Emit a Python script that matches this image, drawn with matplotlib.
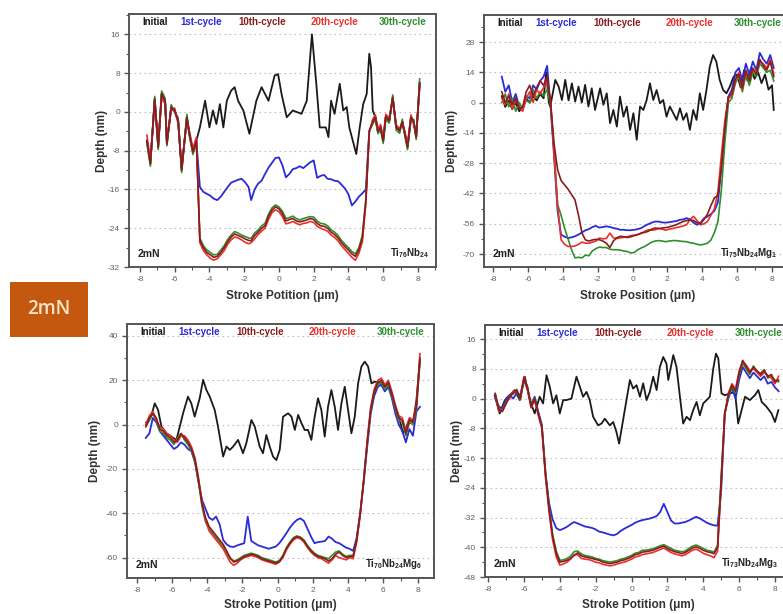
import numpy as np
import matplotlib
matplotlib.use("Agg")
import matplotlib.pyplot as plt
from matplotlib.ticker import MultipleLocator
from matplotlib.patches import Rectangle

plt.rcParams['font.family'] = ['Liberation Sans', 'DejaVu Sans']
plt.rcParams['mathtext.fontset'] = 'custom'
plt.rcParams['mathtext.rm'] = 'Liberation Sans:bold'
plt.rcParams['mathtext.default'] = 'rm'
plt.rcParams['axes.unicode_minus'] = False

series_names = ["Initial", "1st-cycle", "10th-cycle", "20th-cycle", "30th-cycle"]
series_colors = ["#1a1a1a", "#2b2bd6", "#8b1c1c", "#e8302c", "#2f8f2f"]
legend_pos = [0.045, 0.168, 0.355, 0.592, 0.812]

# ---------------- Ti76Nb24 ----------------
p1_x_init = [-7.6, -7.4, -7.15, -6.95, -6.75, -6.55, -6.45, -6.2, -6.0, -5.8,
             -5.6, -5.3, -5.15, -4.95, -4.75, -4.55, -4.25, -4.0, -3.8, -3.6,
             -3.4, -3.2, -3.0, -2.75, -2.55, -2.35, -2.05, -1.7, -1.3, -1.0,
             -0.6, -0.25, -0.05, 0.15, 0.45, 0.8, 1.3, 1.6, 1.9, 2.15,
             2.35, 2.7, 2.85, 3.0, 3.2, 3.5, 3.7, 3.9, 4.05, 4.35,
             4.45, 4.65, 4.85, 5.05, 5.2, 5.3, 5.4, 5.55, 5.7, 5.85,
             6.0, 6.15, 6.35, 6.55, 6.75, 6.95, 7.1, 7.25, 7.4, 7.6,
             7.75, 7.9, 8.1]
p1_initial = [-5.9, -10.7, 2.7, -7.3, 3.8, 2.3, -6.6, 1.0, 0.3, -1.8,
              -12, -1.1, -4.5, -8.3, -5.9, -3.2, 2.3, -3.2, 0.3, -2.5,
              1.6, -3.2, 2.3, 4.4, 5.1, 2.3, 0.3, -4.5, 2.3, 5.1,
              2.3, 7.5, 7.8, 3.7, -1.1, 0.3, -0.4, 2.3, 16, 5.8,
              -3.2, -3.2, -5.2, 2.3, -0.4, 5.8, 0.3, 1.0, -3.2, -7.3,
              -8.7, -3.2, 1.6, 3.7, 12, 9.2, 0.3, -1.1, -4, -3.2,
              -6, -1, -1.8, 3.0, -3.2, -3.9, -2, -4.5, -7.3, -1.1,
              -2, -5.2, 6]
p1_x_cyc = ([-7.6, -7.4, -7.15, -6.95, -6.75, -6.55, -6.45, -6.2, -6.0, -5.8,
             -5.6, -5.3, -5.15, -4.95, -4.75,
             -4.55, -4.35, -4.15, -3.95, -3.75, -3.55, -3.35, -3.15, -2.95, -2.75,
             -2.55, -2.35, -2.15, -1.95, -1.75]
            + list(np.round(np.arange(-1.6, 5.21, 0.2), 2))
            + [5.4, 5.55, 5.7, 5.85, 6.0, 6.15, 6.35, 6.55, 6.75, 6.95,
               7.1, 7.25, 7.4, 7.6, 7.75, 7.9, 8.1])
p1_c1 = [-6.2, -10.2, 2.3, -6.9, 3.4, 1.9, -6.2, 0.7, 0.1, -2.1, -11.6, -1.4, -4.8, -8.0, -6.1,
         -15.5, -16.5, -16.9, -17.3, -17.9, -18.2, -17.5, -16.5, -15.5, -14.6,
         -14.3, -14.0, -13.8, -14.5, -15.5,
         -18.2, -16.0, -14.8, -14.2, -12.8, -11.5, -10.5, -9.5, -9.4, -11.0,
         -13.5, -12.8, -11.8, -11.6, -11.2, -11.6, -11.0, -10.4, -10.0, -13.6,
         -13.2, -13.0, -13.8, -13.9, -14.2, -14.3, -15.0, -15.8, -17.0, -19.3,
         -18.5, -17.5, -16.8, -16.0, -4.0,
         -2.2, -1.3, -4.2, -3.0, -5.8, -1.2, -1.6, 2.7, -3.0, -3.6, -2.2, -4.7, -7.0, -1.3, -1.8, -5.0, 5.5]
p1_c10 = [-5.9, -10.7, 2.7, -7.3, 3.8, 2.3, -6.6, 1.0, 0.3, -1.8, -12.0, -1.1, -4.5, -8.3, -5.9,
          -26.5, -28.0, -29.0, -29.5, -30.0, -29.8, -29.0, -28.0, -26.8, -25.8,
          -25.2, -25.5, -25.8, -26.2, -26.5,
          -26.6, -25.5, -24.8, -24.0, -23.5, -21.5, -20.3, -19.6, -20.0, -21.0,
          -22.5, -22.2, -22.0, -22.5, -22.7, -22.5, -22.3, -22.0, -22.2, -23.0,
          -23.5, -23.6, -24.0, -24.8, -25.3, -26.0, -27.0, -27.8, -28.5, -29.3,
          -29.8, -28.5, -26.0, -18.5, -4.0,
          -2.0, -1.1, -4.0, -3.2, -6.0, -1.0, -1.8, 3.0, -3.2, -3.9, -2.0, -4.5, -7.3, -1.1, -2.0, -5.2, 6.0]
p1_c20 = [-4.8, -10.0, 2.0, -6.5, 3.0, 1.6, -5.8, 0.4, 0.8, -2.5, -11.2, -1.8, -4.0, -7.5, -5.2,
          -27.0, -28.6, -29.5, -30.2, -30.6, -30.3, -29.5, -28.6, -27.3, -26.4,
          -25.8, -26.0, -26.4, -26.9, -27.2,
          -27.0, -26.2, -25.3, -24.6, -24.0, -22.2, -20.8, -20.2, -20.6, -21.6,
          -23.1, -22.9, -22.6, -23.0, -23.3, -23.0, -22.9, -22.6, -22.8, -23.6,
          -24.0, -24.3, -24.6, -25.4, -25.9, -26.6, -27.6, -28.4, -29.2, -30.0,
          -30.6, -29.2, -26.8, -19.0, -4.2,
          -1.5, -0.6, -3.5, -2.6, -5.4, -0.5, -1.2, 2.4, -2.7, -3.4, -2.6, -4.0, -6.8, -0.6, -2.6, -4.6, 5.2]
p1_c30 = [-6.5, -11.2, 3.2, -7.8, 4.3, 2.8, -7.0, 1.5, -0.2, -1.2, -12.5, -0.5, -5.0, -8.8, -6.4,
          -26.0, -27.6, -28.5, -29.0, -29.5, -29.4, -28.5, -27.6, -26.3, -25.4,
          -24.7, -25.0, -25.4, -25.7, -26.0,
          -26.1, -25.0, -24.4, -23.5, -23.0, -21.1, -19.8, -19.2, -19.6, -20.5,
          -22.0, -21.8, -21.5, -22.0, -22.3, -22.0, -21.8, -21.6, -21.7, -22.5,
          -23.0, -23.1, -23.5, -24.3, -24.8, -25.5, -26.5, -27.3, -28.0, -28.8,
          -29.3, -28.0, -25.5, -18.0, -3.8,
          -2.5, -1.6, -4.5, -3.7, -6.5, -1.5, -2.3, 3.5, -3.8, -4.4, -1.5, -5.0, -7.8, -1.6, -1.5, -5.7, 6.8]

# ---------------- Ti75Nb24Mg1 ----------------
p2_x_init = ([-7.5, -7.3, -7.1, -6.9, -6.7, -6.5, -6.3, -6.1, -5.9, -5.7,
              -5.5, -5.3, -5.1, -4.95, -4.8,
              -4.72, -4.43, -4.24, -4.05, -3.86, -3.67, -3.48, -3.29, -3.1, -2.91,
              -2.72, -2.53, -2.34, -2.15, -1.86, -1.67, -1.48, -1.29, -1.1, -0.9,
              -0.72, -0.52, -0.33, -0.14, 0.05, 0.24, 0.43, 0.62, 0.81, 1.0,
              1.19, 1.38, 1.57, 1.76, 1.95, 2.14, 2.34, 2.53, 2.72, 2.91,
              3.1, 3.29, 3.48, 3.67, 3.86, 4.05, 4.24, 4.43, 4.62, 4.81,
              5.0, 5.2, 5.39, 5.58,
              5.8, 6.0, 6.2, 6.4, 6.6, 6.8, 7.0, 7.2, 7.4, 7.6, 7.8, 8.0, 8.1])
p2_initial = [3, -2, 1, -3, 0, -4, -2, 2, 0, 3, 1, 4, 2, 14, 0,
              -1.8, 10.5, 7.4, 1.2, 10.5, 1.0, 8.9, 0.5, 7.4, 0,
              8.2, -1.8, 6.6, -3.4, 6.6, -1.0, 4.3, -9.5, -3.4, -11.1,
              2.8, -6.5, -1.8, -12.6, -4.9, -17.2, -1.8, -3.4, 1.2, 8.9,
              1.2, 5.8, -0.3, 1.2, -6.5, -1.8, -4.9, -8.0, -2.6, -8.0,
              -4.9, -12.6, -3.4, -8.0, 4.3, -3.4, 5.8, 16.6, 22.0, 18.9,
              10.5, 5.8, 4.3, 7.4,
              12, 13, 7, 15, 10, 16, 11, 14, 9, 13, 6, 8, -3.4]
p2_x_cyc = list(np.round(np.arange(-7.5, 8.11, 0.2), 2))
p2_c1 = [12, 5, 8, 0, 4, -2, -3, 3, 2, 8, 6, 10, 12, 17,
         -2, -25, -50, -61, -62, -62.6, -62.3, -61.8, -61, -60,
         -59, -58.5, -57.5, -57, -57.8, -57.5, -57.2, -57.5, -58, -58.3,
         -58.8, -58.8, -59, -59, -58.8, -58.5, -58, -57, -56.2, -55.5,
         -55, -55, -55.4, -55.5, -55.3, -55, -54.8, -54.2, -54, -53.4,
         -54, -55.5, -56.5, -55.5, -53.5, -52.6, -51.5, -50, -46, -29.5,
         -11, 2.8,
         6, 14, 16, 10, 18, 13, 19, 15, 23, 20, 18, 22, 16]
p2_c10 = [5, 0, 3, -1, 2, -3, -2, 5, 8, 3, 7, 10, 8, 12,
          -0.3, -19, -31, -36, -38, -40, -42.5, -45, -52, -60.3,
          -63.5, -64, -63.5, -63.2, -63.4, -64, -65, -67, -64, -62.5,
          -61.8, -62, -62.4, -62, -61.5, -61, -60.3, -60, -59.5, -58.5,
          -58, -58.2, -58, -57.8, -57.5, -57, -56.5, -55.7, -55, -54.5,
          -54.3, -54.5, -55.5, -56, -54, -51.5, -47.5, -44, -43, -30,
          -11, 2.8,
          4, 11, 13, 7, 15, 10, 16, 13, 20, 17, 15, 19, 12]
p2_c20 = [2, -1, 4, -3, 1, -2, -4, 2, 5, 0, 6, 4, 7, 10,
          1, -24, -47, -63.4, -65.5, -66.5, -66.5, -66.3, -65.5, -64.5,
          -65, -65, -64.5, -64, -62.6, -63, -62.8, -60.3, -62.5, -62.8,
          -62.5, -62.3, -62, -61.5, -61.3, -61, -60.5, -59.5, -58.8, -59,
          -58.8, -58.2, -58.5, -59, -58.5, -58.2, -57.8, -57.5, -57, -56.5,
          -54, -52.6, -54.5, -56.5, -56, -55, -52, -49, -41, -24,
          -8, 2,
          3, 10, 14, 6, 14, 11, 15, 14, 19, 18, 16, 20, 13]
p2_c30 = [0, 4, -2, 2, -4, 0, -3, 1, 0, 6, 2, 5, 3, 6,
          -1, -22, -47, -52, -58, -63, -68, -71.8, -71.5, -71.8,
          -70.5, -70.8, -68.5, -67.5, -66.8, -67, -67, -67.8, -68, -68,
          -68.2, -68.6, -68.8, -69.5, -69.3, -68, -67.2, -66.5, -65.5, -64.5,
          -64, -63.8, -64, -64.3, -64, -63.8, -63.8, -64, -64.2, -64.3,
          -64.8, -65, -65.5, -65.8, -65.5, -65, -63.5, -60, -55, -40,
          -18, 0,
          2, 9, 12, 5, 13, 8, 14, 12, 18, 16, 14, 15, 10]

# ---------------- Ti70Nb24Mg6 ----------------
p3_x_init = [-7.47, -7.2, -6.99, -6.8, -6.61, -6.33, -6.05, -5.76, -5.57, -5.38,
             -5.1, -4.91, -4.72, -4.43, -4.24, -4.05, -3.86, -3.58, -3.39, -3.1,
             -2.91, -2.72, -2.53, -2.25, -1.97, -1.78, -1.49, -1.3, -1.02, -0.83,
             -0.64, -0.45, -0.26, -0.07, 0.12, 0.31, 0.6, 0.79, 0.98, 1.17,
             1.36, 1.54, 1.73, 1.92, 2.11, 2.3, 2.49, 2.68, 2.87, 3.06,
             3.25, 3.44, 3.63, 3.82, 4.01, 4.2, 4.39, 4.58, 4.77, 4.96,
             5.15, 5.34, 5.53, 5.8, 6.0, 6.19, 6.38, 6.57, 6.76, 6.95,
             7.14, 7.33, 7.52, 7.71, 7.9, 8.1]
p3_initial = [-0.2, 3.6, 9.6, 6.6, -0.9, -3.9, -5.4, -6.9, -1, 5.1,
              12.6, 9.6, 3.6, 12, 20.2, 15.6, 12.6, 6.6, -0.9, -14.4,
              -9.9, -11.4, -9.9, -6.9, -12.9, -8.4, 2.1, -0.9, -9.9, -12.9,
              -4.7, -9.9, -14.4, -16, -11.4, 3.6, 5.1, 3.6, -2.4, 4.4,
              0.6, -2.4, -2.4, -6.9, 3.6, 11.9, 6.6, -5.4, 8.1, 15.6,
              8.1, -2.4, 9.6, 17.1, 6.6, -3.9, 3.6, 18.6, 26.2, 28.4,
              26.2, 18.6, 19.4, 19, 17, 18, 16, 11, 6.6, 2,
              -3.9, -1, 3, 1, 11.1, 29.2]
p3_x_cyc = list(np.round(np.arange(-7.5, 8.11, 0.2), 2))
p3_c1 = [-6, -4, 3, 1, -3, -5, -7, -9, -11, -10, -8, -9, -11,
         -12, -17, -26, -34, -38, -42, -43, -41.5, -45, -52,
         -54, -55, -55.2, -54.5, -54, -53.5, -41.5, -52.5, -53.5, -54.5,
         -55, -55.5, -56, -55.5, -55, -53.5, -51.3, -49, -46.5, -44.5,
         -43, -42.3, -43.5, -47, -50.5, -53.5, -53, -52.8, -52.5, -50.5,
         -51.5, -53, -53.5, -54.5, -55.5, -56, -57, -51, -40, -26,
         -10, 5, 13,
         17, 18, 15, 17, 12, 5, 0, -3, -8, -2, -5, 6, 8]
p3_c10 = [-1, 3, 5, 3, -2, -3, -5, -6, -8, -7, -4, -6, -8,
          -11, -16, -25, -36, -42, -46, -48, -50, -52, -54,
          -57, -60, -62, -61.5, -60.5, -59.5, -59, -58.5, -58.8, -59.5,
          -60.5, -61, -61.5, -62, -62.5, -61.8, -59.5, -56, -53.5, -51.5,
          -50.5, -51, -52.5, -55, -57, -58.5, -59.5, -60, -60.5, -61.5,
          -60.5, -58.5, -57.5, -59, -60, -59.5, -59.5, -52, -40, -25,
          -8, 7, 15,
          19, 20, 17, 19, 14, 8, 3, 2, -4, 2, 1, 8, 30]
p3_c20 = [0, 4, 6, 2, -1, -2, -4, -5, -7, -8, -5, -5, -7,
          -10, -15, -24, -35, -43, -48, -50, -52, -54, -56,
          -59, -62, -63.5, -62.5, -61, -60, -59.5, -59, -59.5, -60,
          -61, -61.5, -62, -62.5, -63, -62, -60, -56.5, -54, -52,
          -51, -51.5, -53, -55.5, -57.5, -59, -60, -60.5, -61.5, -62.5,
          -61, -59, -60, -60.5, -61, -60, -60.5, -53, -41, -25,
          -7, 8, 16,
          20, 21, 18, 20, 15, 9, 4, 3, -3, 3, 2, 9, 32]
p3_c30 = [1, 2, 5, 2, -3, -4, -6, -7, -9, -6, -4, -7, -9,
          -12, -17, -26, -37, -44, -47, -49, -51, -53, -55,
          -58, -60.5, -61.5, -61, -60, -59, -58.5, -58, -58.5, -59,
          -60, -60.5, -61, -61.5, -62, -61.3, -59, -55.5, -53, -51,
          -50.2, -50.8, -52, -54.5, -56.5, -58, -59, -59.5, -60, -60.5,
          -59, -57.5, -57, -58.5, -59.5, -59, -59, -52, -40, -25,
          -8, 6, 15,
          18, 19, 16, 18, 13, 7, 2, 1, -5, 1, 0, 7, 28]

# ---------------- Ti73Nb24Mg3 ----------------
p4_x_init = [-7.63, -7.35, -7.07, -6.79, -6.51, -6.23, -5.95, -5.67, -5.4, -5.12,
             -4.93, -4.74, -4.56, -4.37, -4.19, -4.0, -3.81, -3.63, -3.35, -3.07,
             -2.88, -2.7, -2.51, -2.33, -2.14, -1.86, -1.67, -1.49, -1.21, -1.02,
             -0.84, -0.69, -0.47, -0.28, -0.09, 0.09, 0.28, 0.47, 0.65, 0.84,
             1.02, 1.21, 1.4, 1.58, 1.77, 1.95, 2.05, 2.33, 2.51, 2.7,
             2.88, 3.07, 3.26, 3.44, 3.63, 3.81, 4.0, 4.19, 4.37, 4.56,
             4.71, 4.84, 5.02, 5.21, 5.49, 5.77, 5.95, 6.14, 6.33, 6.6,
             6.88, 7.07, 7.26, 7.53, 7.81, 8.0, 8.19]
p4_initial = [0.9, -4, -0.5, 0.9, 2.3, -0.4, 5.9, -0.4, -4, 0.5,
              -1.3, 6.3, 3.2, -1.3, 0.9, -4, -0.4, -0.4, 0, 5.9,
              3.2, 0.5, 1.8, -0.4, -4.9, -7.2, -6.7, -5.4, -7.2, -6.3,
              -9, -12.1, -5.8, -0.4, 5, 2.7, 3.6, 0.5, 4.1, -0.4,
              1.8, 5.9, 2.3, 8.5, 11.2, 9.4, 5, 11.7, 8.5, 0.5,
              -6.7, -4.9, -5.8, -3.1, -0.9, -4.5, -1.3, -0.4, 0.5, 8.1,
              12.1, 10.8, 1.4, 0.9, 1.4, 1.8, -6.7, -3.1, 0.5, -0.4,
              0.9, 2.3, -0.9, -2.2, -4, -6.3, -3.1]
p4_x_cyc = list(np.round(np.arange(-7.6, 8.21, 0.2), 2))
p4_c1 = [0, -2, -3, 0, 1, 0, 1.5, 1, 5, 2.5, -1.5, 0.5, -3.5, -7,
         -20, -28, -32.5, -34.8, -35.4, -35, -34.5, -33.8, -33.2, -33.6,
         -34, -34.4, -34.6, -34.8, -35.2, -35.8, -36, -36.3, -36.6, -36.8,
         -36.4, -35.6, -35, -34.5, -34, -33.4, -33, -32.7, -32.5, -32.3,
         -32, -31.6, -30.5, -28.3, -30.5, -32.8, -33.6, -33.6, -33.4, -33.2,
         -32.8, -32.3, -31.8, -32.2, -32.8, -33.4, -33.8, -34.1, -34.2, -25,
         -4,
         0, 3, 0, 5, 8.5, 7, 5.5, 7, 6, 5, 6, 4, 4.5, 3, 2]
p4_c10 = [1.4, -3, -3.5, -1.3, 0.5, 1.5, 2.3, 0, 5.5, 3, -2.2, 0, -4, -7.6,
          -20, -29.5, -37, -41.5, -44, -43.8, -43.5, -43, -42.2, -41.5,
          -42.3, -42.6, -42.8, -43, -43.3, -43.5, -44, -44.2, -44.4, -44.2,
          -44, -43.6, -43.4, -43, -42.6, -42, -41.8, -41.3, -41.2, -41,
          -40.8, -40.4, -40, -39.7, -40.3, -40.8, -41.2, -41.4, -41.7, -41.4,
          -40.8, -40.2, -39.9, -40.3, -40.8, -41.2, -41.4, -41.7, -40, -22,
          -4,
          1, 3.6, 2, 6.8, 10.3, 8.5, 7, 8.5, 7.5, 6.5, 7.6, 5.9, 6.5, 4.5, 5]
p4_c20 = [1, -3.5, -3, -1, 0, 2, 2, 0.5, 5.9, 2.5, -2.5, -0.5, -4.5, -8,
          -21, -30.5, -38, -42.5, -44.8, -44.5, -44, -43.2, -42, -42,
          -43, -43.2, -43.3, -43.6, -44, -44.2, -44.6, -44.8, -45, -44.8,
          -44.5, -44.2, -44, -43.6, -43.2, -42.6, -42.4, -42, -41.8, -41.6,
          -41.4, -41, -40.6, -40.2, -40.8, -41.4, -41.8, -42, -42.3, -42,
          -41.4, -40.8, -40.5, -41, -41.6, -42, -42.3, -42.8, -41, -23,
          -4.5,
          1.5, 4, 2.5, 7.5, 10, 9, 7.5, 8, 7, 6, 7, 6.3, 5.5, 4, 6]
p4_c30 = [1.2, -2.8, -3.2, -1.5, 0.8, 1.2, 2.5, -0.3, 5.2, 3.2, -2, 0.3, -4.2, -7.4,
          -19.5, -29, -36.5, -41, -43.5, -43.4, -43, -42.4, -41.2, -41,
          -41.8, -42.2, -42.4, -42.6, -43, -43.2, -43.6, -43.8, -44, -43.8,
          -43.6, -43.2, -43, -42.6, -42.2, -41.6, -41.4, -40.8, -40.8, -40.6,
          -40.4, -40, -39.6, -39.3, -39.8, -40.3, -40.8, -41, -41.2, -41,
          -40.3, -39.7, -39.4, -39.8, -40.3, -40.8, -41, -41.3, -39.5, -21,
          -3.8,
          0.5, 3.2, 1.5, 6.3, 9.5, 8, 6.5, 8.8, 7.2, 6.8, 7.8, 5.5, 6, 5, 4.5]

panels = [
    dict(rect=[129, 14, 307, 253], xlim=(-8.63, 9.04), ylim=(-32, 20.2),
         yticks=[16, 8, 0, -8, -16, -24, -32], yminor=4,
         x_init=p1_x_init, initial=p1_initial, x_cyc=p1_x_cyc,
         cycles=[p1_c1, p1_c10, p1_c20, p1_c30],
         alloy="Ti$_{76}$Nb$_{24}$", alloy_x=0.85,
         xlabel="Stroke Potition (\u03bcm)", ylab_x=-0.068, xlab_y=-0.091),
    dict(rect=[484, 15, 307, 252], xlim=(-8.52, 9.09), ylim=(-76, 40.5),
         yticks=[28, 14, 0, -14, -28, -42, -56, -70], yminor=7,
         x_init=p2_x_init, initial=p2_initial, x_cyc=p2_x_cyc,
         cycles=[p2_c1, p2_c10, p2_c20, p2_c30],
         alloy="Ti$_{75}$Nb$_{24}$Mg$_{1}$", alloy_x=0.77,
         xlabel="Stroke Position (\u03bcm)", ylab_x=-0.085, xlab_y=-0.091),
    dict(rect=[127, 324, 307, 254], xlim=(-8.57, 8.9), ylim=(-69.2, 45.4),
         yticks=[40, 20, 0, -20, -40, -60], yminor=10,
         x_init=p3_x_init, initial=p3_initial, x_cyc=p3_x_cyc,
         cycles=[p3_c1, p3_c10, p3_c20, p3_c30],
         alloy="Ti$_{70}$Nb$_{24}$Mg$_{6}$", alloy_x=0.775,
         xlabel="Stroke Potition (\u03bcm)", ylab_x=-0.085, xlab_y=-0.083),
    dict(rect=[485, 325, 307, 252], xlim=(-8.17, 8.95), ylim=(-48, 19.8),
         yticks=[16, 8, 0, -8, -16, -24, -32, -40, -48], yminor=4,
         x_init=p4_x_init, initial=p4_initial, x_cyc=p4_x_cyc,
         cycles=[p4_c1, p4_c10, p4_c20, p4_c30],
         alloy="Ti$_{73}$Nb$_{24}$Mg$_{3}$", alloy_x=0.77,
         xlabel="Stroke Potition (\u03bcm)", ylab_x=-0.072, xlab_y=-0.087),
]

W, H = 783, 614
fig = plt.figure(figsize=(W / 100, H / 100), dpi=100)

for p in panels:
    l, t, w, h = p["rect"]
    ax = fig.add_axes([l / W, (H - t - h) / H, w / W, h / H])
    for ys in p["cycles"]:
        if len(ys) != len(p["x_cyc"]):
            raise ValueError("series length mismatch")
    if len(p["x_init"]) != len(p["initial"]):
        raise ValueError("initial length mismatch")

    ax.plot(p["x_init"], p["initial"], color=series_colors[0], lw=1.3, zorder=3)
    c1, c10, c20, c30 = p["cycles"]
    ax.plot(p["x_cyc"], c1, color=series_colors[1], lw=1.3, zorder=4)
    ax.plot(p["x_cyc"], c30, color=series_colors[4], lw=1.2, zorder=5)
    ax.plot(p["x_cyc"], c20, color=series_colors[3], lw=1.2, zorder=6)
    ax.plot(p["x_cyc"], c10, color=series_colors[2], lw=1.2, zorder=7)

    ax.set_xlim(*p["xlim"])
    ax.set_ylim(*p["ylim"])
    ax.set_xticks(range(-8, 9, 2))
    ax.set_yticks(p["yticks"])
    ax.xaxis.set_minor_locator(MultipleLocator(1))
    ax.yaxis.set_minor_locator(MultipleLocator(p["yminor"]))
    ax.yaxis.grid(True, which='major', linestyle=(0, (1.5, 3)),
                  color='#c4bcbc', lw=0.8, zorder=0)
    ax.set_axisbelow(True)

    for s in ax.spines.values():
        s.set_color('#555555')
        s.set_linewidth(1.4)
    ax.tick_params(which='major', direction='out', length=3.5, width=1.0,
                   color='#555555', labelsize=6, labelcolor='#606060', pad=3)
    ax.tick_params(which='minor', direction='out', length=2, width=0.8,
                   color='#555555')

    ax.set_xlabel(p["xlabel"], fontsize=8.5, fontweight='bold', color='#333333')
    ax.set_ylabel("Depth (nm)", fontsize=8.5, fontweight='bold', color='#333333')
    ax.yaxis.set_label_coords(p["ylab_x"], 0.5)
    ax.xaxis.set_label_coords(0.5, p["xlab_y"])

    for name, col, xp in zip(series_names, series_colors, legend_pos):
        ax.text(xp, 0.968, name, transform=ax.transAxes, ha='left', va='center',
                fontsize=7, fontweight='bold', color=col, zorder=10)
    ax.text(0.028, 0.052, "2mN", transform=ax.transAxes, ha='left', va='center',
            fontsize=7.5, fontweight='bold', color='#222222', zorder=10)
    ax.text(p["alloy_x"], 0.055, p["alloy"], transform=ax.transAxes, ha='left',
            va='center', fontsize=7, fontweight='bold', color='#222222', zorder=10)

# load tag on the left margin
fig.patches.append(Rectangle((10 / W, (H - 337) / H), 78 / W, 55 / H,
                             transform=fig.transFigure, facecolor='#c4580f',
                             edgecolor='none'))
fig.text(49 / W, (H - 309.5) / H, "2mN", ha='center', va='center',
         fontsize=13.5, fontweight='semibold', color='#fde6c8',
         family=['Open Sans', 'DejaVu Sans'])

fig.savefig("out.png", dpi=100)
